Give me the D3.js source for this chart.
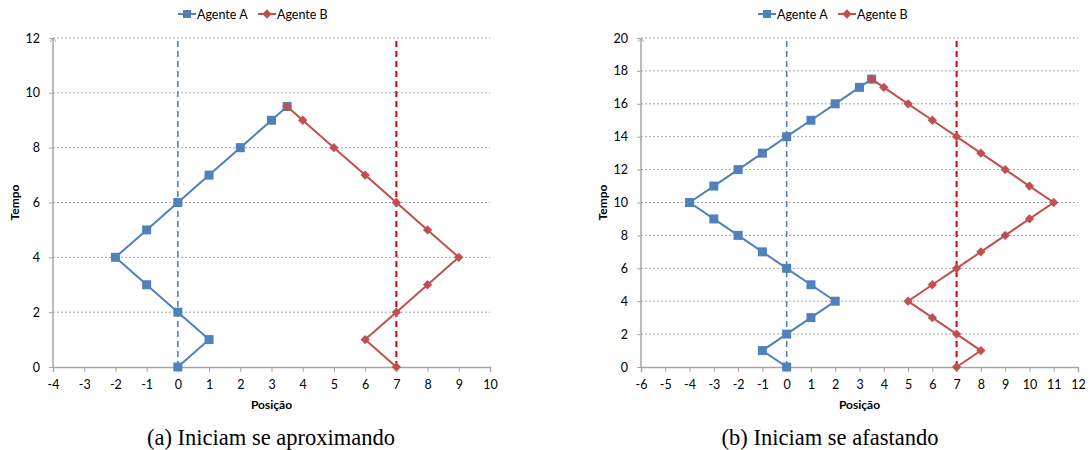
<!DOCTYPE html>
<html>
<head>
<meta charset="utf-8">
<script src="https://cdn.jsdelivr.net/npm/d3@7"></script>
<style>
  body { margin: 0; background: #fff; }
  text { font-family: Lato, "Open Sans", sans-serif; fill: #000; }
</style>
</head>
<body>
<div id="main"></div>
<script>
const ctx = { w: 1089, h: 450 };

// panel (a)
const aPosA = [0, 1, 0, -1, -2, -1, 0, 1, 2, 3, 3.5];
const aTimeA = [0, 1, 2, 3, 4, 5, 6, 7, 8, 9, 9.5];
const aPosB = [7, 6, 7, 8, 9, 8, 7, 6, 5, 4, 3.5];
const aTimeB = [0, 1, 2, 3, 4, 5, 6, 7, 8, 9, 9.5];
const aXTicks = d3.range(-4, 11, 1);
const aYTicks = d3.range(0, 13, 2);

// panel (b)
const bPosA = [0, -1, 0, 1, 2, 1, 0, -1, -2, -3, -4, -3, -2, -1, 0, 1, 2, 3, 3.5];
const bTimeA = [0, 1, 2, 3, 4, 5, 6, 7, 8, 9, 10, 11, 12, 13, 14, 15, 16, 17, 17.5];
const bPosB = [7, 8, 7, 6, 5, 6, 7, 8, 9, 10, 11, 10, 9, 8, 7, 6, 5, 4, 3.5];
const bTimeB = [0, 1, 2, 3, 4, 5, 6, 7, 8, 9, 10, 11, 12, 13, 14, 15, 16, 17, 17.5];
const bXTicks = d3.range(-6, 13, 1);
const bYTicks = d3.range(0, 21, 2);

const startA = 0, startB = 7;
const seriesNames = ["Agente A", "Agente B"];
const captions = ["(a) Iniciam se aproximando", "(b) Iniciam se afastando"];

const blue = "#4F81BD", red = "#C0504D", redDash = "#E00000", gray = "#A6A6A6";

function drawPanel(svg, p) {
  const x = d3.scaleLinear().domain(d3.extent(p.xTicks)).range([p.left, p.right]);
  const y = d3.scaleLinear().domain(d3.extent(p.yTicks)).range([p.bottom, p.top]);
  const g = svg.append("g");

  // gridlines
  g.selectAll(".grid").data(p.yTicks.filter(d => d > 0)).enter().append("line")
    .attr("x1", p.left).attr("x2", p.gridRight)
    .attr("y1", d => y(d)).attr("y2", d => y(d))
    .style("stroke", gray).style("stroke-dasharray", "2,2");

  // axes (plain hyphen minus like the original)
  const fmt = d => String(d);
  const xa = g.append("g").attr("transform", `translate(0,${p.bottom})`)
    .call(d3.axisBottom(x).tickValues(p.xTicks).tickSize(5).tickPadding(8).tickFormat(fmt));
  const ya = g.append("g").attr("transform", `translate(${p.left},0)`)
    .call(d3.axisLeft(y).tickValues(p.yTicks).tickSize(4).tickPadding(9).tickFormat(fmt));
  [xa, ya].forEach(a => {
    a.select(".domain").style("stroke", gray).style("stroke-width", 1.5);
    a.selectAll(".tick line").style("stroke", gray);
    a.selectAll("text").style("font-size", "12.5px").style("font-family", "Lato, sans-serif");
  });
  ya.selectAll(".tick line").attr("x1", 0).attr("x2", -4);
  ya.select(".domain").attr("d", `M0,${p.bottom}V${p.top}`);
  // small arrow at top of y axis
  g.append("path").attr("d", `M${p.left - 3},${p.top + 4}L${p.left},${p.top}L${p.left + 3},${p.top + 4}`)
    .style("fill", "none").style("stroke", gray);

  // reference lines
  g.append("line").attr("x1", x(startA)).attr("x2", x(startA))
    .attr("y1", y(0)).attr("y2", p.top)
    .style("stroke", blue).style("stroke-width", 1.6).style("stroke-dasharray", "6,4");
  g.append("line").attr("x1", x(startB)).attr("x2", x(startB))
    .attr("y1", y(0)).attr("y2", p.top)
    .style("stroke", redDash).style("stroke-width", 2).style("stroke-dasharray", "6,4");

  const line = d3.line().x(d => x(d[0])).y(d => y(d[1]));
  const ptsA = d3.zip(p.posA, p.timeA);
  const ptsB = d3.zip(p.posB, p.timeB);

  g.append("path").datum(ptsA).attr("d", line)
    .style("fill", "none").style("stroke", blue).style("stroke-width", 2);
  g.selectAll(".sqA").data(ptsA).enter().append("rect")
    .attr("x", d => x(d[0]) - 4.5).attr("y", d => y(d[1]) - 4.5)
    .attr("width", 9).attr("height", 9).style("fill", blue);

  g.append("path").datum(ptsB).attr("d", line)
    .style("fill", "none").style("stroke", red).style("stroke-width", 2);
  const diamond = d3.symbol().type(d3.symbolDiamond2).size(55);
  g.selectAll(".dmB").data(ptsB).enter().append("path")
    .attr("d", diamond).attr("transform", d => `translate(${x(d[0])},${y(d[1])})`)
    .style("fill", red);

  // titles
  g.append("text").attr("x", (p.left + p.right) / 2).attr("y", p.bottom + 42)
    .attr("text-anchor", "middle").style("font-size", "12px").style("font-weight", "bold")
    .text("Posição");
  g.append("text").attr("transform", `translate(${p.left - 34},${(p.top + p.bottom) / 2}) rotate(-90)`)
    .attr("text-anchor", "middle").style("font-size", "12px").style("font-weight", "bold")
    .text("Tempo");

  // legend
  const lg = g.append("g").attr("transform", `translate(${p.legendX},14)`);
  lg.append("line").attr("x1", 0).attr("x2", 18).style("stroke", blue).style("stroke-width", 2);
  lg.append("rect").attr("x", 5).attr("y", -4).attr("width", 8).attr("height", 8).style("fill", blue);
  lg.append("text").attr("x", 19).attr("y", 4.5).style("font-size", "12.5px").text(seriesNames[0]);
  lg.append("line").attr("x1", 80).attr("x2", 98).style("stroke", red).style("stroke-width", 2);
  lg.append("path").attr("d", diamond).attr("transform", "translate(89,0)").style("fill", red);
  lg.append("text").attr("x", 99).attr("y", 4.5).style("font-size", "12.5px").text(seriesNames[1]);

  // caption
  svg.append("text").attr("x", p.capX).attr("y", 445).attr("text-anchor", "middle")
    .style("font-family", "'Liberation Serif', 'DejaVu Serif', serif").style("font-size", "22.5px")
    .text(p.caption);
}

function createViz() {
  const svg = d3.select("#main").append("svg").attr("width", ctx.w).attr("height", ctx.h);
  drawPanel(svg, {
    posA: aPosA, timeA: aTimeA, posB: aPosB, timeB: aTimeB,
    xTicks: aXTicks, yTicks: aYTicks,
    left: 53, right: 490, gridRight: 490, top: 38, bottom: 367,
    legendX: 178, capX: 271, caption: captions[0]
  });
  drawPanel(svg, {
    posA: bPosA, timeA: bTimeA, posB: bPosB, timeB: bTimeB,
    xTicks: bXTicks, yTicks: bYTicks,
    left: 641, right: 1078, gridRight: 1078, top: 38, bottom: 367,
    legendX: 758, capX: 830, caption: captions[1]
  });
}

createViz();
</script>
</body>
</html>
